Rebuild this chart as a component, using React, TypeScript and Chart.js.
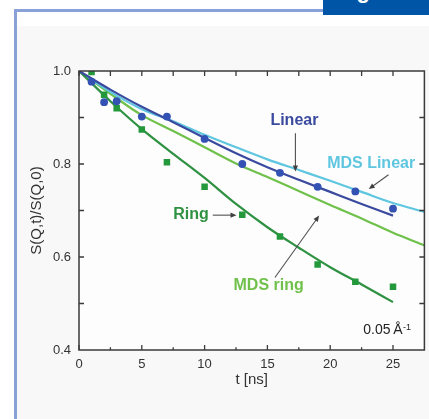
import React, { useEffect, useRef } from 'react';
import { Chart, registerables } from 'chart.js';

Chart.register(...registerables);

// ---- data ----
const T_FIT = [0, 2.5, 5, 7.5, 10, 12.5, 15, 17.5, 20, 22.5, 25];
const T_MDS = [0, 2.5, 5, 7.5, 10, 12.5, 15, 17.5, 20, 22.5, 25, 27.5];
const LINEAR_FIT = [1.0, 0.96, 0.923, 0.89, 0.856, 0.823, 0.793, 0.766, 0.74, 0.714, 0.689];
const RING_FIT = [1.0, 0.935, 0.875, 0.822, 0.77, 0.714, 0.664, 0.62, 0.578, 0.541, 0.503];
const MDS_LINEAR = [1.0, 0.955, 0.918, 0.892, 0.863, 0.836, 0.81, 0.787, 0.764, 0.74, 0.716, 0.697];
const MDS_RING = [1.0, 0.951, 0.905, 0.871, 0.836, 0.801, 0.772, 0.742, 0.712, 0.683, 0.652, 0.625];
const T_DATA = [1, 2, 3, 5, 7, 10, 13, 16, 19, 22, 25];
const LINEAR_DATA = [0.977, 0.933, 0.935, 0.902, 0.902, 0.854, 0.8, 0.781, 0.751, 0.741, 0.704];
const RING_DATA = [0.998, 0.949, 0.92, 0.874, 0.804, 0.751, 0.691, 0.644, 0.584, 0.547, 0.536];

const X_LABEL_TICKS = [0, 5, 10, 15, 20, 25];
const X_TICK_MARKS = [0, 2.5, 5, 7.5, 10, 12.5, 15, 17.5, 20, 22.5, 25];
const Y_LABEL_TICKS = [0.4, 0.6, 0.8, 1.0];
const Y_TICK_MARKS = [0.5, 0.6, 0.7, 0.8, 0.9];

const C_LINEAR = '#3a4a9f';
const C_LINEAR_PT = '#3352b4';
const C_MDS_LINEAR = '#5fc6e0';
const C_RING = '#2f9142';
const C_RING_PT = '#23993c';
const C_MDS_RING = '#70c14b';

const FONT = "'Liberation Sans', Arial, Helvetica, sans-serif";

const pts = (xs: number[], ys: number[]) => xs.map((x, i) => ({ x, y: ys[i] }));

// annotation anchors (in data coordinates)
const LABELS = [
  { text: 'Linear', t: 17.15, v: 0.893, color: C_LINEAR },
  { text: 'MDS Linear', t: 23.26, v: 0.801, color: C_MDS_LINEAR },
  { text: 'Ring', t: 8.91, v: 0.691, color: C_RING },
  { text: 'MDS ring', t: 15.1, v: 0.538, color: C_MDS_RING },
];
const ARROWS = [
  { t1: 17.23, v1: 0.866, t2: 17.23, v2: 0.784 },
  { t1: 24.64, v1: 0.777, t2: 23.07, v2: 0.746 },
  { t1: 10.65, v1: 0.69, t2: 12.54, v2: 0.69 },
  { t1: 15.6, v1: 0.556, t2: 19.12, v2: 0.689 },
];

const framePlugin = {
  id: 'framePlugin',
  beforeDatasetsDraw(chart: any) {
    const { ctx, chartArea: a } = chart;
    ctx.save();
    ctx.fillStyle = '#fdfdfd';
    ctx.fillRect(a.left, a.top, a.right - a.left, a.bottom - a.top);
    ctx.restore();
  },
  afterDatasetsDraw(chart: any) {
    const { ctx, chartArea: a } = chart;
    const xs = chart.scales.x;
    const ys = chart.scales.y;
    const px = (t: number) => xs.getPixelForValue(t);
    const py = (v: number) => ys.getPixelForValue(v);
    ctx.save();
    // frame
    ctx.strokeStyle = '#3a3a3a';
    ctx.lineWidth = 1.5;
    ctx.strokeRect(a.left, a.top, a.right - a.left, a.bottom - a.top);
    // ticks
    ctx.lineWidth = 1.3;
    ctx.beginPath();
    X_TICK_MARKS.forEach((t) => {
      const x = px(t);
      const major = t % 5 === 0;
      ctx.moveTo(x, a.bottom);
      ctx.lineTo(x, a.bottom - (major ? 5 : 2.8));
      ctx.moveTo(x, a.top);
      ctx.lineTo(x, a.top + 5);
    });
    Y_TICK_MARKS.forEach((v) => {
      const y = py(v);
      ctx.moveTo(a.left, y);
      ctx.lineTo(a.left + 5, y);
      ctx.moveTo(a.right, y);
      ctx.lineTo(a.right - 5, y);
    });
    ctx.stroke();

    // arrows
    ctx.strokeStyle = '#505050';
    ctx.fillStyle = '#404040';
    ctx.lineWidth = 1.1;
    ARROWS.forEach((ar) => {
      const x1 = px(ar.t1), y1 = py(ar.v1), x2 = px(ar.t2), y2 = py(ar.v2);
      const ang = Math.atan2(y2 - y1, x2 - x1);
      const hl = 6, hw = 2.6;
      ctx.beginPath();
      ctx.moveTo(x1, y1);
      ctx.lineTo(x2 - Math.cos(ang) * hl * 0.8, y2 - Math.sin(ang) * hl * 0.8);
      ctx.stroke();
      ctx.beginPath();
      ctx.moveTo(x2, y2);
      ctx.lineTo(x2 - Math.cos(ang) * hl + Math.sin(ang) * hw, y2 - Math.sin(ang) * hl - Math.cos(ang) * hw);
      ctx.lineTo(x2 - Math.cos(ang) * hl - Math.sin(ang) * hw, y2 - Math.sin(ang) * hl + Math.cos(ang) * hw);
      ctx.closePath();
      ctx.fill();
    });

    // labels
    ctx.font = `bold 16px ${FONT}`;
    ctx.textAlign = 'center';
    ctx.textBaseline = 'middle';
    LABELS.forEach((l) => {
      ctx.fillStyle = l.color;
      ctx.fillText(l.text, px(l.t), py(l.v));
    });

    // Q value
    ctx.fillStyle = '#222';
    ctx.textAlign = 'left';
    ctx.textBaseline = 'alphabetic';
    ctx.font = `14px ${FONT}`;
    const qx = px(22.63), qy = py(0.4344);
    const main = '0.05\u2009Å';
    ctx.fillText(main, qx, qy);
    const w = ctx.measureText(main).width;
    ctx.font = `9px ${FONT}`;
    ctx.fillText('-1', qx + w + 0.5, qy - 4);
    ctx.restore();
  },
};

export default function App() {
  const ref = useRef<HTMLCanvasElement | null>(null);
  useEffect(() => {
    if (!ref.current) return;
    const lineDs = (label: string, xs: number[], ys: number[], color: string, order: number) => ({
      label,
      data: pts(xs, ys),
      borderColor: color,
      backgroundColor: color,
      borderWidth: 2.2,
      pointRadius: 0,
      cubicInterpolationMode: 'monotone' as const,
      fill: false,
      order,
    });
    const chart = new Chart(ref.current, {
      type: 'line',
      data: {
        datasets: [
          {
            label: 'Linear data',
            data: pts(T_DATA, LINEAR_DATA),
            showLine: false,
            pointStyle: 'circle',
            pointRadius: 3.9,
            pointBackgroundColor: C_LINEAR_PT,
            pointBorderWidth: 0,
            order: 0,
          } as any,
          {
            label: 'Ring data',
            data: pts(T_DATA, RING_DATA),
            showLine: false,
            pointStyle: 'rect',
            pointRadius: 4.6,
            pointBackgroundColor: C_RING_PT,
            pointBorderWidth: 0,
            order: 0,
          } as any,
          lineDs('MDS Linear', T_MDS, MDS_LINEAR, C_MDS_LINEAR, 3),
          lineDs('MDS ring', T_MDS, MDS_RING, C_MDS_RING, 3),
          lineDs('Linear', T_FIT, LINEAR_FIT, C_LINEAR, 2),
          lineDs('Ring', T_FIT, RING_FIT, C_RING, 2),
        ],
      },
      options: {
        animation: false,
        responsive: false,
        devicePixelRatio: 1,
        layout: { padding: { top: 71, right: 1.5, left: 0, bottom: 0 } },
        plugins: { legend: { display: false }, tooltip: { enabled: false } },
        scales: {
          x: {
            type: 'linear',
            min: 0,
            max: 27.5,
            afterBuildTicks: (s: any) => {
              s.ticks = X_LABEL_TICKS.map((v) => ({ value: v }));
            },
            afterFit: (s: any) => {
              s.height = 69;
            },
            grid: { display: false, drawTicks: false },
            border: { display: false },
            ticks: {
              color: '#333',
              font: { family: FONT, size: 13 },
              padding: 7,
              maxRotation: 0,
              autoSkip: false,
              callback: (v: any) => String(v),
            },
            title: {
              display: true,
              text: 't [ns]',
              color: '#333',
              font: { family: FONT, size: 15 },
              padding: { top: 0, bottom: 30 },
            },
          },
          y: {
            type: 'linear',
            min: 0.4,
            max: 1.0,
            afterBuildTicks: (s: any) => {
              s.ticks = Y_LABEL_TICKS.map((v) => ({ value: v }));
            },
            afterFit: (s: any) => {
              s.width = 79;
            },
            grid: { display: false, drawTicks: false },
            border: { display: false },
            ticks: {
              color: '#333',
              font: { family: FONT, size: 13 },
              padding: 8,
              autoSkip: false,
              callback: (v: any) => Number(v).toFixed(1),
            },
            title: {
              display: true,
              text: 'S(Q,t)/S(Q,0)',
              color: '#333',
              font: { family: FONT, size: 15 },
              padding: { top: 28, bottom: 0 },
            },
          },
        },
      },
      plugins: [framePlugin],
    });
    return () => chart.destroy();
  }, []);

  return (
    <div
      style={{
        position: 'fixed',
        left: 0,
        top: 0,
        width: 429,
        height: 419,
        background: '#ffffff',
        overflow: 'hidden',
      }}
    >
      <div style={{ position: 'absolute', left: 16, top: 26, right: 0, bottom: 0, background: '#f8f8f8' }} />
      <div style={{ position: 'absolute', left: 14, top: 9, width: 309, height: 2.5, background: '#8aa1d8' }} />
      <div style={{ position: 'absolute', left: 14, top: 9, width: 2.5, height: 410, background: '#8aa1d8' }} />
      <div
        style={{
          position: 'absolute',
          left: 323,
          top: 0,
          width: 106,
          height: 15,
          background: '#0055a6',
          overflow: 'hidden',
        }}
      >
        <span
          style={{
            position: 'absolute',
            left: 14,
            top: -20,
            color: '#ffffff',
            fontFamily: FONT,
            fontWeight: 'bold',
            fontSize: 22,
            lineHeight: '22px',
            whiteSpace: 'nowrap',
          }}
        >
          Fig. 4
        </span>
      </div>
      <canvas ref={ref} width={429} height={419} style={{ position: 'absolute', left: 0, top: 0 }} />
    </div>
  );
}
